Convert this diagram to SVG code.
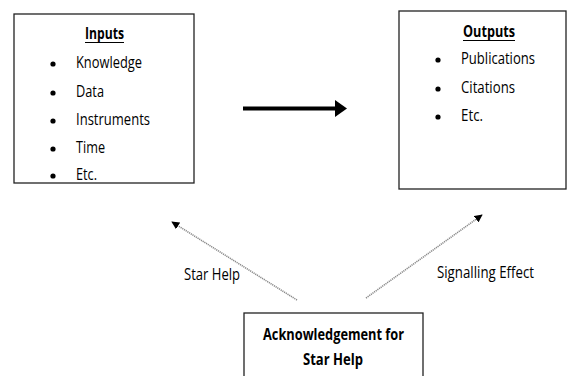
<svg xmlns="http://www.w3.org/2000/svg" width="568" height="376" viewBox="0 0 568 376">
<defs>
<style>
.box{fill:#fff;stroke:#222;stroke-width:1.3}
.t{font-family:"Open Sans",Lato,"Liberation Sans",sans-serif;font-size:15.5px;fill:#000}
.b{font-weight:bold;font-size:16px}
.dot{stroke:#8a8a8a;stroke-width:1.6;stroke-dasharray:1.2 0.8;fill:none}
</style>
<marker id="tri" viewBox="0 0 10 10" refX="9" refY="5" markerWidth="8" markerHeight="8" markerUnits="userSpaceOnUse" orient="auto">
<path d="M0,0 L10,5 L0,10 Z" fill="#000"/>
</marker>
<circle id="bul" r="2.6" fill="#000"/>
</defs>
<rect width="568" height="376" fill="#fff"/>
<g id="inputs">
<rect class="box" x="14" y="14" width="180" height="169"/>
<text class="t b" x="85" y="39" textLength="39" lengthAdjust="spacingAndGlyphs">Inputs</text>
<line x1="85" y1="42.5" x2="124" y2="42.5" stroke="#000" stroke-width="1"/>
<use href="#bul" x="53" y="64"/><text class="t" x="76" y="68" textLength="66" lengthAdjust="spacingAndGlyphs">Knowledge</text>
<use href="#bul" x="53" y="93"/><text class="t" x="76" y="97" textLength="28" lengthAdjust="spacingAndGlyphs">Data</text>
<use href="#bul" x="53" y="121"/><text class="t" x="76" y="125" textLength="74" lengthAdjust="spacingAndGlyphs">Instruments</text>
<use href="#bul" x="53" y="149"/><text class="t" x="76" y="153" textLength="29" lengthAdjust="spacingAndGlyphs">Time</text>
<use href="#bul" x="53" y="176"/><text class="t" x="76" y="180" textLength="21" lengthAdjust="spacingAndGlyphs">Etc.</text>
</g>
<g id="outputs">
<rect class="box" x="399" y="11" width="167" height="178"/>
<text class="t b" x="463" y="37" textLength="52" lengthAdjust="spacingAndGlyphs">Outputs</text>
<line x1="463" y1="40.5" x2="515" y2="40.5" stroke="#000" stroke-width="1"/>
<use href="#bul" x="438" y="60"/><text class="t" x="461" y="64" textLength="74" lengthAdjust="spacingAndGlyphs">Publications</text>
<use href="#bul" x="438" y="89"/><text class="t" x="461" y="93" textLength="54" lengthAdjust="spacingAndGlyphs">Citations</text>
<use href="#bul" x="438" y="117"/><text class="t" x="461" y="121" textLength="22" lengthAdjust="spacingAndGlyphs">Etc.</text>
</g>
<g id="ack">
<rect class="box" x="244" y="313" width="179" height="70"/>
<text class="t b" x="263" y="340" textLength="141" lengthAdjust="spacingAndGlyphs">Acknowledgement for</text>
<text class="t b" x="303" y="365" textLength="60" lengthAdjust="spacingAndGlyphs">Star Help</text>
</g>
<g id="connectors">
<line x1="243" y1="108.5" x2="337" y2="108.5" stroke="#000" stroke-width="4"/>
<path d="M335,100 L347,108.5 L335,117 Z" fill="#000"/>
<line class="dot" x1="297" y1="300" x2="172" y2="222" marker-end="url(#tri)"/>
<line class="dot" x1="366" y1="298" x2="482" y2="215" marker-end="url(#tri)"/>
<text class="t" x="184" y="280" textLength="56" lengthAdjust="spacingAndGlyphs">Star Help</text>
<text class="t" x="437" y="278" textLength="97" lengthAdjust="spacingAndGlyphs">Signalling Effect</text>
</g>
</svg>
